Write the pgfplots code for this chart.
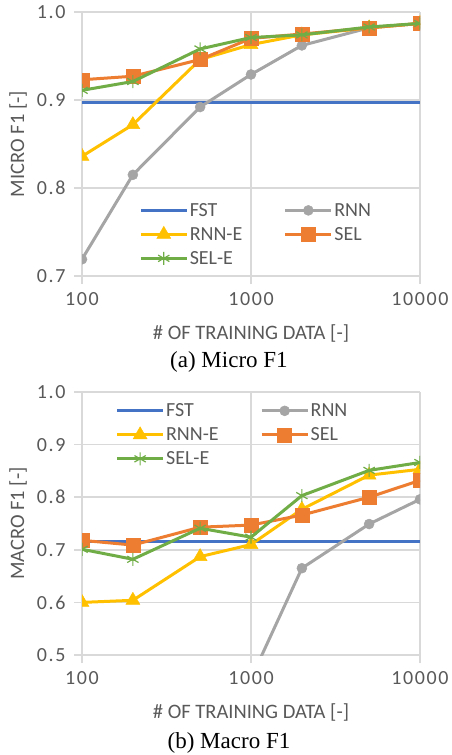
\documentclass[border=0pt]{standalone}
\usepackage{fontspec}
\setmainfont{Carlito}
\newfontfamily\tickfont[LetterSpace=8]{Carlito}
\newfontfamily\capfont{Liberation Serif}
\usepackage{pgfplots}
\pgfplotsset{compat=1.18}

\definecolor{fstblue}{HTML}{4472C4}
\definecolor{rnngray}{HTML}{A5A5A5}
\definecolor{rnneyellow}{HTML}{FFC000}
\definecolor{selorange}{HTML}{ED7D31}
\definecolor{selegreen}{HTML}{70AD47}
\definecolor{gridgray}{HTML}{D9D9D9}
\definecolor{textgray}{HTML}{595959}

\pgfplotsset{
  excelstyle/.style={
    scale only axis, width=338pt,
    xmin=100, xmax=10000,
    xtick={100,1000,10000}, xticklabels={100,1000,10000},
    grid=major,
    major grid style={draw=gridgray, line width=1.5pt},
    minor tick style={draw=none},
    minor grid style={draw=none},
    axis line style={draw=none},
    tick pos=left, tick align=outside, major tick length=8pt,
    major tick style={draw=gridgray, line width=1.5pt},
    xticklabel style={font=\tickfont\fontsize{20}{24}\selectfont, text=textgray, yshift=-5pt},
    yticklabel style={font=\tickfont\fontsize{20}{24}\selectfont, text=textgray, xshift=-5pt},
    every axis y label/.style={at={(axis description cs:-0.189,0.5)}, rotate=90, anchor=center,
      font=\fontsize{20.5}{24}\selectfont, text=textgray},
    clip marker paths=true,
    legend style={draw=none, fill=none, font=\fontsize{20}{23.5}\selectfont, text=textgray,
      legend columns=2, row sep=6.5pt, /tikz/every even column/.append style={column sep=40pt},
      nodes={inner sep=1.5pt}},
    legend cell align=left,
    legend image code/.code={\draw[mark repeat=2, mark phase=2] plot coordinates {(0pt,0pt) (23pt,0pt) (46pt,0pt)};},
  },
  xlab/.style={every axis x label/.style={at={(axis description cs:0.5,#1)}, anchor=center,
      font=\fontsize{20.5}{24}\selectfont, text=textgray}},
  fst/.style={fstblue, line width=3pt, no markers},
  rnn/.style={rnngray, line width=3pt, mark=*, mark size=5pt, mark options={line width=0.5pt}},
  rnne/.style={rnneyellow, line width=3pt, mark=triangle*, mark size=8pt, mark options={line width=0.5pt}},
  sel/.style={selorange, line width=3pt, mark=square*, mark size=7pt, mark options={line width=0.5pt}},
  sele/.style={selegreen, line width=3pt, mark=asterisk, mark size=6.5pt, mark options={line width=1.2pt}},
}

\begin{document}
\begin{tikzpicture}
\useasboundingbox (-82pt,-479pt) rectangle (369pt,276pt);

% (a) Micro F1
\begin{semilogxaxis}[excelstyle, height=264pt,
    ymin=0.7, ymax=1.0, ytick={0.7,0.8,0.9,1.0}, yticklabels={0.7,0.8,0.9,1.0},
    xlabel={\# OF TRAINING DATA [-]}, ylabel={MICRO F1 [-]}, xlab=-0.216,
    legend style={at={(axis description cs:0.16,0.29)}, anchor=north west}]
\addplot[fst] coordinates {(100,0.897) (10000,0.897)};
\addlegendentry{FST}
\addplot[rnn] coordinates {(100,0.719) (200,0.815) (500,0.892) (1000,0.929) (2000,0.962) (5000,0.982) (10000,0.987)};
\addlegendentry{RNN}
\addplot[rnne] coordinates {(100,0.836) (200,0.872) (500,0.946) (1000,0.963) (2000,0.974) (5000,0.982) (10000,0.987)};
\addlegendentry{RNN-E}
\addplot[sel] coordinates {(100,0.923) (200,0.927) (500,0.946) (1000,0.970) (2000,0.975) (5000,0.982) (10000,0.987)};
\addlegendentry{SEL}
\addplot[sele] coordinates {(100,0.911) (200,0.921) (500,0.958) (1000,0.971) (2000,0.974) (5000,0.983) (10000,0.987)};
\addlegendentry{SEL-E}
\end{semilogxaxis}
\node[font=\capfont\fontsize{23}{26}\selectfont] at (147pt,-86pt) {(a) Micro F1};

% (b) Macro F1
\begin{semilogxaxis}[excelstyle, at={(0pt,-379pt)}, height=263pt,
    ymin=0.5, ymax=1.0, ytick={0.5,0.6,0.7,0.8,0.9,1.0}, yticklabels={0.5,0.6,0.7,0.8,0.9,1.0},
    xlabel={\# OF TRAINING DATA [-]}, ylabel={MACRO F1 [-]}, xlab=-0.22,
    legend style={at={(axis description cs:0.09,0.97)}, anchor=north west}]
\addplot[fst] coordinates {(100,0.7165) (10000,0.7165)};
\addlegendentry{FST}
\addplot[rnn] coordinates {(1000,0.455) (2000,0.665) (5000,0.749) (10000,0.796)};
\addlegendentry{RNN}
\addplot[rnne] coordinates {(100,0.600) (200,0.604) (500,0.687) (1000,0.710) (2000,0.777) (5000,0.842) (10000,0.853)};
\addlegendentry{RNN-E}
\addplot[sel] coordinates {(100,0.718) (200,0.709) (500,0.743) (1000,0.747) (2000,0.766) (5000,0.800) (10000,0.832)};
\addlegendentry{SEL}
\addplot[sele] coordinates {(100,0.701) (200,0.682) (500,0.741) (1000,0.724) (2000,0.803) (5000,0.851) (10000,0.866)};
\addlegendentry{SEL-E}
\end{semilogxaxis}
\node[font=\capfont\fontsize{23}{26}\selectfont] at (147pt,-467pt) {(b) Macro F1};
\end{tikzpicture}
\end{document}
